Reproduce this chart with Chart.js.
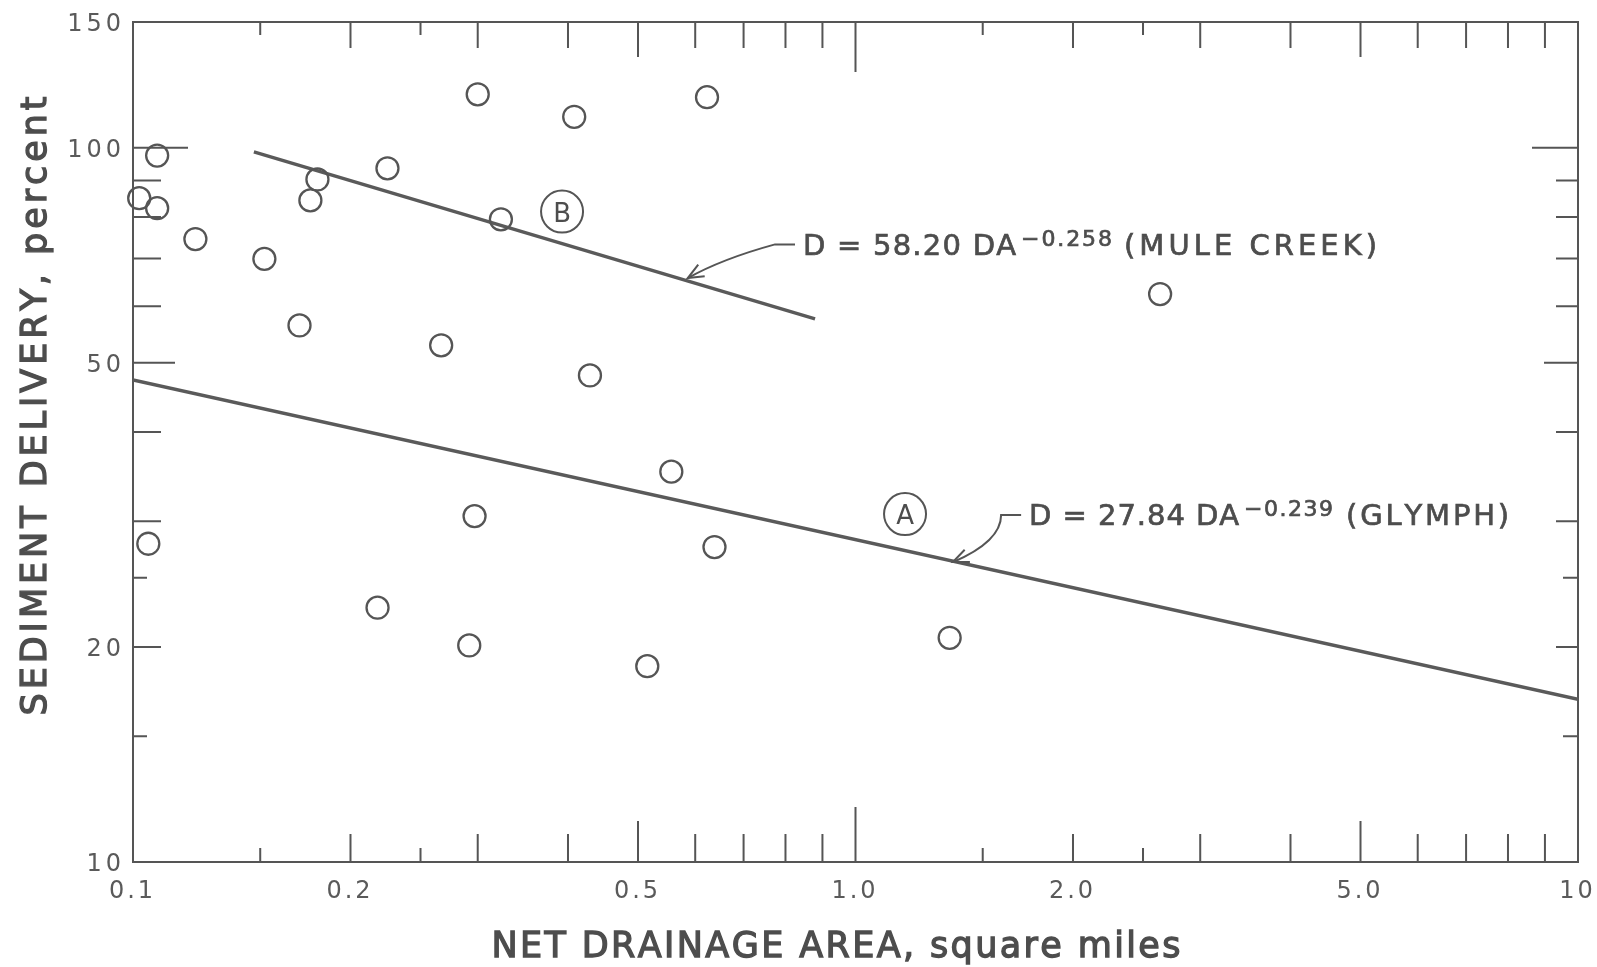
<!DOCTYPE html>
<html>
<head>
<meta charset="utf-8">
<script src="https://cdn.jsdelivr.net/npm/chart.js@4.4.1/dist/chart.umd.min.js"></script>
<style>
  html, body { margin: 0; background: #fff; }
  #wrap { width: 1597px; height: 967px; }
</style>
</head>
<body>
<div id="wrap"><canvas id="chart" width="1597" height="967"></canvas></div>
<script>
// ── Sediment delivery vs. net drainage area (log-log) ──

// observed stations
const areaSqMi = [0.102, 0.108, 0.108, 0.122, 0.105, 0.152, 0.170, 0.176, 0.180, 0.225, 0.218, 0.267,
                  0.292, 0.297, 0.300, 0.323, 0.408, 0.429, 0.515, 0.556, 0.623, 0.638, 1.35, 2.64];
const deliveryPct = [85.0, 97.5, 82.3, 74.5, 27.9, 69.9, 56.4, 84.4, 90.3, 93.6, 22.7, 52.9,
                     20.1, 30.5, 118.8, 79.4, 110.5, 48.0, 18.8, 35.2, 117.7, 27.6, 20.6, 62.4];

// fitted curves, end points as drawn
const glymphX = [0.1, 10];
const glymphY = [47.3, 16.9];
const muleX = [0.147, 0.879];
const muleY = [98.7, 57.6];

// axis ticks
const xTickValues = [0.15, 0.2, 0.25, 0.3, 0.4, 0.5, 0.6, 0.7, 0.8, 0.9, 1, 1.5, 2, 2.5, 3, 4, 5, 6, 7, 8, 9];
const xLabelValues = [0.1, 0.2, 0.5, 1, 2, 5, 10];
const xLabels = ['0.1', '0.2', '0.5', '1.0', '2.0', '5.0', '10'];
const yTickValues = [15, 20, 25, 30, 40, 50, 60, 70, 80, 90, 100];
const yLabelValues = [10, 20, 50, 100, 150];
const yLabels = ['10', '20', '50', '100', '150'];

// curve labels (A, B) and equations
const markerLabels = ['A', 'B'];
const markerX = [1.171, 0.3925];
const markerY = [30.7, 81.4];
const eqMain = ['D = 27.84 DA', 'D = 58.20 DA'];
const eqExp = ['\u22120.239', '\u22120.258'];
const eqName = ['(GLYMPH)', '(MULE CREEK)'];
const eqX = [1.739, 0.846];
const eqY = [29.6, 70.8];
const arrowTipX = [1.364, 0.586];
const arrowTipY = [26.3, 65.7];

const INK = '#555';
const TEXT = '#4d4d4d';
const FONT = "'DejaVu Sans', 'Liberation Sans', sans-serif";

// draws text char by char, spread to a given width (or with a fixed gap)
function drawSpaced(ctx, text, x, y, opts) {
    const chars = [...text];
    const ws = chars.map(c => ctx.measureText(c).width);
    const natural = ws.reduce((a, b) => a + b, 0);
    let gap = opts.spacing || 0;
    if (opts.width != null && chars.length > 1) gap = (opts.width - natural) / (chars.length - 1);
    const total = natural + gap * (chars.length - 1);
    let sx = x;
    if (opts.align === 'center') sx = x - total / 2;
    else if (opts.align === 'right') sx = x - total;
    chars.forEach((c, i) => {
        ctx.fillText(c, sx, y);
        if (opts.bold) ctx.strokeText(c, sx, y);
        sx += ws[i] + gap;
    });
    return total;
}

function xTickLen(v) {
    if ([0.15, 0.25, 1.5, 2.5].includes(v)) return [14, 13];
    if (v === 1) return [55, 50];
    if (v === 0.5 || v === 5) return [41, 35];
    return [28, 26];
}

function yTickLen(v) {
    if (v === 15 || v === 25) return [14, 15];
    if (v === 100) return [55, 46];
    if (v === 50) return [42, 34];
    return [28, 22];
}

function drawArrow(ctx, sx, sy, cx, cy, tx, ty) {
    ctx.beginPath();
    ctx.moveTo(sx, sy);
    ctx.lineTo(sx - 20, sy);
    ctx.quadraticCurveTo(cx, cy, tx, ty);
    ctx.stroke();
    const ang = Math.atan2(ty - cy, tx - cx);
    const len = 17, spread = 0.4;
    ctx.beginPath();
    ctx.moveTo(tx - len * Math.cos(ang - spread), ty - len * Math.sin(ang - spread));
    ctx.lineTo(tx, ty);
    ctx.lineTo(tx - len * Math.cos(ang + spread), ty - len * Math.sin(ang + spread));
    ctx.stroke();
}

const framePlugin = {
    id: 'frame',
    beforeDatasetsDraw(chart) {
        const { ctx, chartArea: a, scales: { x, y } } = chart;
        ctx.save();
        ctx.strokeStyle = INK;
        ctx.lineWidth = 2;
        ctx.strokeRect(a.left, a.top, a.right - a.left, a.bottom - a.top);
        ctx.beginPath();
        xTickValues.forEach(v => {
            const px = x.getPixelForValue(v);
            const [lb, lt] = xTickLen(v);
            ctx.moveTo(px, a.bottom); ctx.lineTo(px, a.bottom - lb);
            ctx.moveTo(px, a.top); ctx.lineTo(px, a.top + lt);
        });
        yTickValues.forEach(v => {
            const py = y.getPixelForValue(v);
            const [ll, lr] = yTickLen(v);
            ctx.moveTo(a.left, py); ctx.lineTo(a.left + ll, py);
            ctx.moveTo(a.right, py); ctx.lineTo(a.right - lr, py);
        });
        ctx.stroke();
        ctx.restore();
    },
    afterDatasetsDraw(chart) {
        const { ctx, chartArea: a, scales: { x, y } } = chart;
        ctx.save();
        ctx.fillStyle = TEXT;
        ctx.strokeStyle = TEXT;
        ctx.textAlign = 'left';
        ctx.textBaseline = 'alphabetic';

        // tick labels
        ctx.font = `24px ${FONT}`;
        ctx.fillStyle = '#5a5a5a';
        xLabelValues.forEach((v, i) => {
            drawSpaced(ctx, xLabels[i], x.getPixelForValue(v) - 2, a.bottom + 36, { spacing: 3, align: 'center' });
        });
        yLabelValues.forEach((v, i) => {
            drawSpaced(ctx, yLabels[i], a.left - 12, y.getPixelForValue(v) + 9, { spacing: 4, align: 'right' });
        });
        ctx.fillStyle = TEXT;

        // axis titles
        ctx.font = `35px ${FONT}`;
        ctx.lineWidth = 1.3;
        drawSpaced(ctx, 'NET DRAINAGE AREA, square miles', 836, 957, { width: 689, align: 'center', bold: true });
        ctx.save();
        ctx.translate(46, 406);
        ctx.rotate(-Math.PI / 2);
        drawSpaced(ctx, 'SEDIMENT DELIVERY, percent', 0, 0, { width: 619, align: 'center', bold: true });
        ctx.restore();

        // circled curve letters
        ctx.lineWidth = 2;
        ctx.strokeStyle = INK;
        ctx.font = `26px ${FONT}`;
        markerLabels.forEach((t, i) => {
            const px = x.getPixelForValue(markerX[i]);
            const py = y.getPixelForValue(markerY[i]);
            ctx.beginPath();
            ctx.arc(px, py, 21, 0, Math.PI * 2);
            ctx.stroke();
            ctx.textAlign = 'center';
            ctx.fillText(t, px, py + 10);
            ctx.textAlign = 'left';
        });

        // equations with leader arrows
        const segW = [[210, 89, 163], [213, 91, 253]];
        const segGap = [[5, 13], [5, 12]];
        const ctrl = [[-28, 16], [-81, 4]];
        eqMain.forEach((t, i) => {
            const px = x.getPixelForValue(eqX[i]);
            const py = y.getPixelForValue(eqY[i]);
            ctx.strokeStyle = TEXT;
            ctx.lineWidth = 0.7;
            ctx.font = `29px ${FONT}`;
            let cx = px;
            drawSpaced(ctx, t, cx, py, { width: segW[i][0], bold: true });
            cx += segW[i][0] + segGap[i][0];
            ctx.font = `22px ${FONT}`;
            drawSpaced(ctx, eqExp[i], cx, py - 9, { width: segW[i][1], bold: true });
            cx += segW[i][1] + segGap[i][1];
            ctx.font = `29px ${FONT}`;
            drawSpaced(ctx, eqName[i], cx, py, { width: segW[i][2], bold: true });

            const tx = x.getPixelForValue(arrowTipX[i]);
            const ty = y.getPixelForValue(arrowTipY[i]);
            ctx.strokeStyle = INK;
            ctx.lineWidth = 2;
            drawArrow(ctx, px - 8, py - 10.5, px + ctrl[i][0], py + ctrl[i][1], tx, ty);
        });
        ctx.restore();
    }
};

const points = areaSqMi.map((v, i) => ({ x: v, y: deliveryPct[i] }));
const glymph = glymphX.map((v, i) => ({ x: v, y: glymphY[i] }));
const mule = muleX.map((v, i) => ({ x: v, y: muleY[i] }));

new Chart(document.getElementById('chart'), {
    type: 'scatter',
    data: {
        datasets: [
            {
                label: 'Stations',
                data: points,
                pointStyle: 'circle',
                pointRadius: 11,
                borderWidth: 2.3,
                borderColor: INK,
                backgroundColor: 'rgba(0,0,0,0)',
                clip: false
            },
            {
                type: 'line',
                label: 'Glymph',
                data: glymph,
                borderColor: '#5a5a5a',
                borderWidth: 3.5,
                pointRadius: 0,
                fill: false
            },
            {
                type: 'line',
                label: 'Mule Creek',
                data: mule,
                borderColor: '#5a5a5a',
                borderWidth: 3.5,
                pointRadius: 0,
                fill: false
            }
        ]
    },
    options: {
        responsive: false,
        devicePixelRatio: 1,
        animation: false,
        layout: { padding: { left: 133, right: 19, top: 22, bottom: 105 } },
        plugins: { legend: { display: false }, tooltip: { enabled: false } },
        scales: {
            x: { type: 'logarithmic', min: 0.1, max: 10, display: false },
            y: { type: 'logarithmic', min: 10, max: 150, display: false }
        }
    },
    plugins: [framePlugin]
});
</script>
</body>
</html>
